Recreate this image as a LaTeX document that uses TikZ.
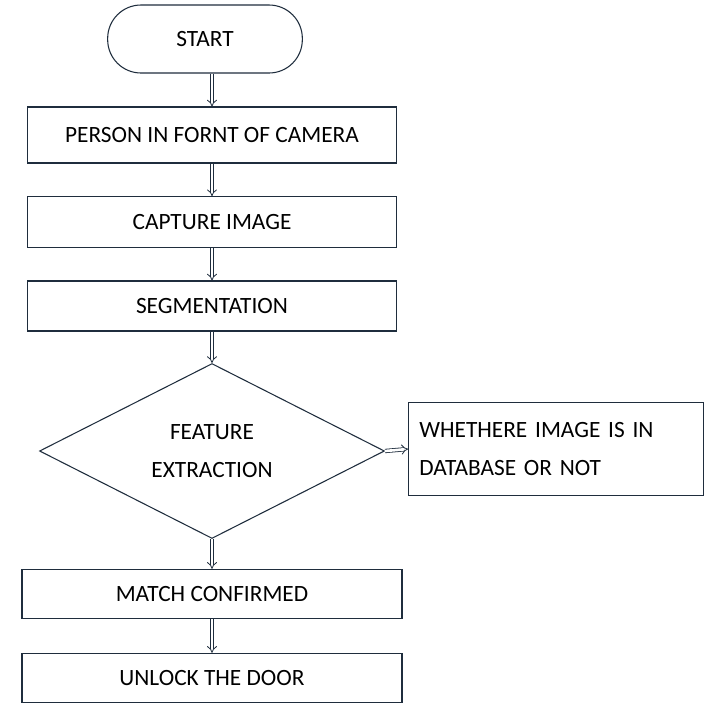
\documentclass[tikz,border=0pt]{standalone}
\usepackage{fontspec}
\setmainfont{Carlito}
\usetikzlibrary{positioning,arrows.meta,shapes.geometric}
\definecolor{edge}{HTML}{1F2D3D}
\tikzstyle{fbox}=[rectangle, draw=edge, thick, minimum width=276.75pt, inner sep=2pt, text centered, font=\fontsize{17.5}{21}\selectfont]
\tikzstyle{fline}=[draw=edge, double, double distance=2pt, semithick, -{Implies}]

\begin{document}
\begin{tikzpicture}[x=0.75pt,y=-0.75pt]
\useasboundingbox (0,0) rectangle (708,719);

\node (START) [fbox, rounded corners=25pt, minimum width=146pt, minimum height=51pt] at (205,39) {START};
\node (PERSON) [fbox, minimum height=42pt] at (212,135) {PERSON IN FORNT OF CAMERA};
\node (CAPTURE) [fbox, minimum height=38pt] at (212,222) {CAPTURE IMAGE};
\node (SEG) [fbox, minimum height=37.5pt] at (212,306) {SEGMENTATION};
\node (FEAT) [diamond, draw=edge, thick, inner sep=0pt, minimum width=258.75pt, minimum height=127.5pt, align=center, font=\fontsize{17.5}{29}\selectfont] at (212,451) {FEATURE\\EXTRACTION};
\node (DB) [fbox, minimum width=221pt, minimum height=70pt, align=left, text width=205pt, font=\fontsize{17.5}{29}\selectfont] at (556,449) {WHETHERE IMAGE IS IN\\DATABASE OR NOT};
\node (MATCH) [fbox, minimum width=285pt, minimum height=37pt] at (212,594) {MATCH CONFIRMED};
\node (UNLOCK) [fbox, minimum width=285pt, minimum height=37pt] at (212,678) {UNLOCK THE DOOR};

\draw[fline] (PERSON.north |- START.south) -- (PERSON.north);
\draw[fline] (PERSON) -- (CAPTURE);
\draw[fline] (CAPTURE) -- (SEG);
\draw[fline] (SEG) -- (FEAT);
\draw[fline] (FEAT) -- (MATCH);
\draw[fline] (MATCH) -- (UNLOCK);
\draw[fline] (FEAT.east) -- (DB.west);

\end{tikzpicture}
\end{document}
